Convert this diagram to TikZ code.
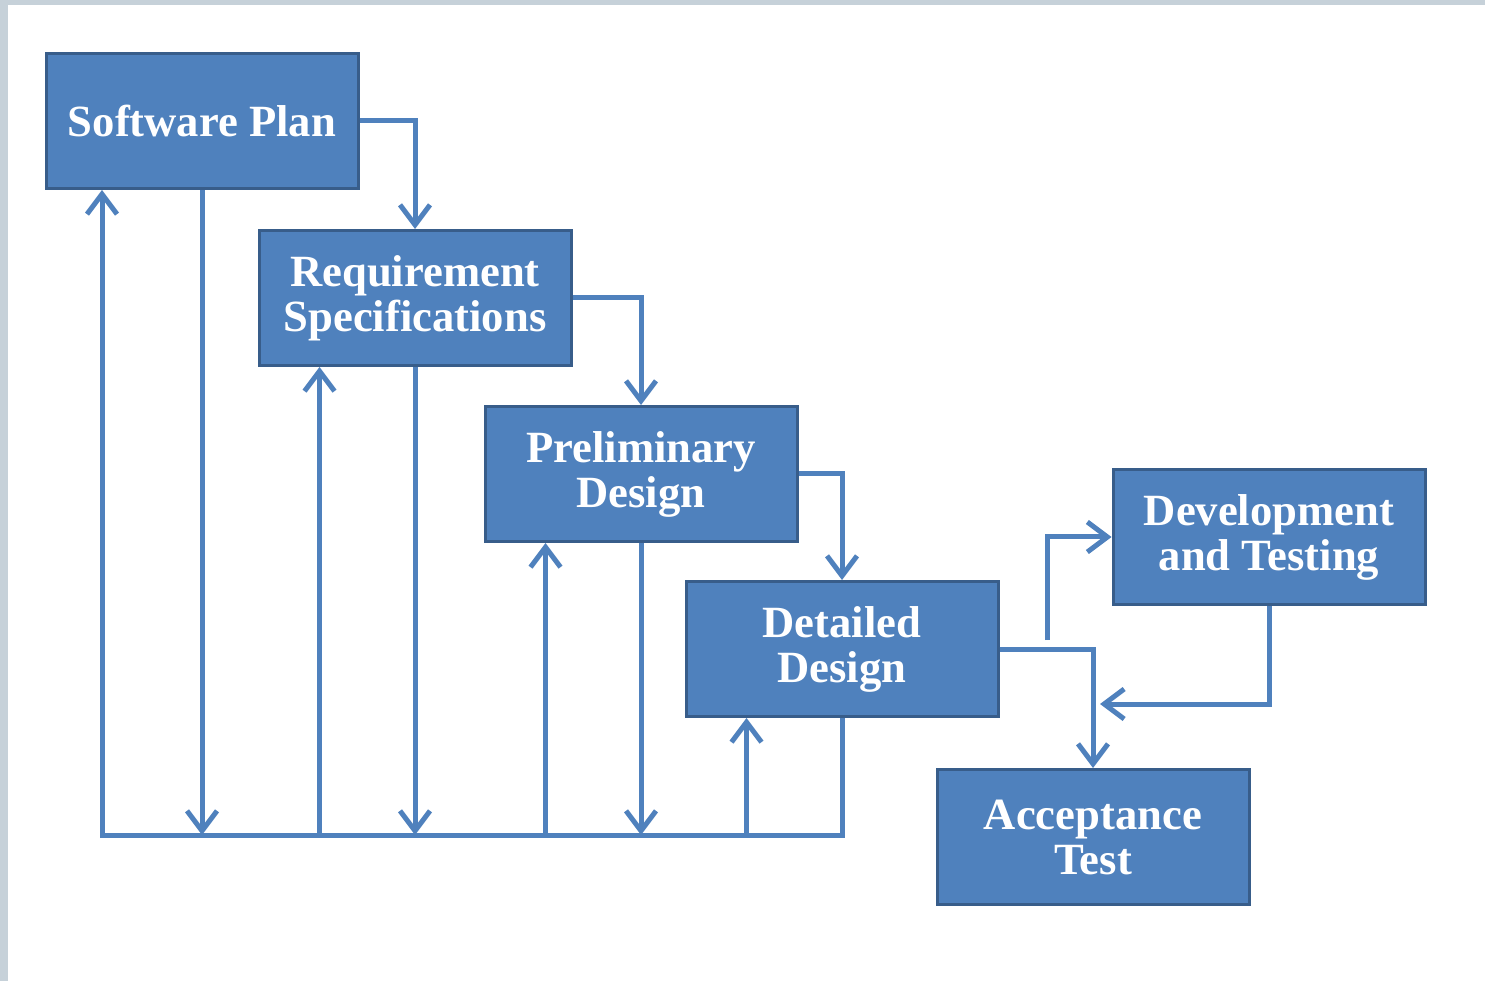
\documentclass[tikz,border=0pt]{standalone}
\usepackage{fontspec}
\setmainfont{Liberation Serif}
\usetikzlibrary{arrows.meta,calc}
\definecolor{boxblue}{HTML}{4F81BD}
\definecolor{boxedge}{HTML}{385D8A}
\definecolor{framegray}{HTML}{C6D1D9}
\tikzset{
  stage/.style={draw=boxedge,line width=.3mm,fill=boxblue,text=white,
    minimum width=31.2mm,minimum height=13.5mm,inner sep=0pt,align=center,
    font=\fontsize{12.7}{12.8}\selectfont\bfseries},
  link/.style={draw=boxblue,line width=.5mm},
  flow/.style={link,-{Straight Barb[length=2mm,width=3mm]}}
}
\begin{document}
\begin{tikzpicture}[x=.1mm,y=-.1mm]
\useasboundingbox (0,0) rectangle (1485,981);
\fill[framegray] (0,0) rectangle (1485,981);
\fill[white] (8,5) rectangle (1485,981);

\node[stage] (sp) at (202,121) {Software Plan};
\node[stage] (req) at (415,298) {Requirement\\Specifications};
\node[stage] (pre) at (641,474) {Preliminary\\Design};
\node[stage] (det) at (842,649) {Detailed\\Design};
\node[stage] (dev) at (1269,537) {Development\\and Testing};
\node[stage] (acc) at (1093,837) {Acceptance\\Test};

% forward steps
\draw[flow] (sp.east) -| (req.north);
\draw[flow] (req.east) -| (pre.north);
\draw[flow] (pre.east) -| (det.north);
\draw[flow] (det.east) -| (acc.north);

% development loop
\coordinate (split) at (1047,640);
\coordinate (back) at (1100,704);
\draw[flow] (split) |- (dev.west);
\draw[flow] (dev.south) |- (back);

% feedback bus
\coordinate (bus) at (102,835);
\draw[flow] (det.south) |- (bus) -- (bus |- sp.south);
\foreach \b in {sp,req,pre}
  \draw[flow] (\b.south) -- (\b.south |- bus);
\foreach \b in {req,pre,det}
  \draw[flow] ($(\b.south west |- bus)+(62,0)$) -- ($(\b.south west)+(62,0)$);
\end{tikzpicture}
\end{document}
